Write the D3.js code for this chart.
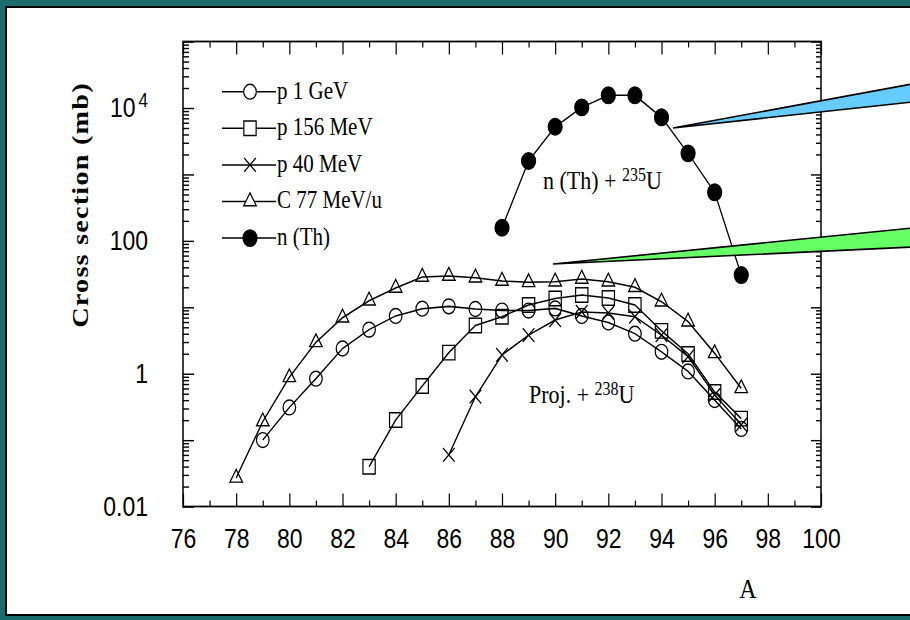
<!DOCTYPE html>
<html>
<head>
<meta charset="utf-8">
<script src="https://cdn.jsdelivr.net/npm/d3@7"></script>
<style>
  html, body { margin: 0; padding: 0; background: #1a6b6b; }
  svg { display: block; }
</style>
</head>
<body>
<svg id="chart" width="910" height="620"></svg>
<script>
// === Data ===
// mass number A and cross sections (mb)
const A_P1GEV = [79, 80, 81, 82, 83, 84, 85, 86, 87, 88, 89, 90, 91, 92, 93, 94, 95, 96, 97];
const P1GEV   = [0.1, 0.31, 0.84, 2.39, 4.6, 7.4, 9.5, 10.3, 9.4, 8.9, 8.9, 9.6, 7.4, 5.9, 4.0, 2.13, 1.08, 0.40, 0.147];

const A_P156  = [83, 84, 85, 86, 87, 88, 89, 90, 91, 92, 93, 94, 95, 96, 97];
const P156    = [0.0397, 0.20, 0.65, 2.07, 5.3, 7.2, 10.8, 13.5, 15.3, 13.8, 10.8, 4.4, 1.98, 0.53, 0.21];

const A_P40   = [86, 87, 88, 89, 90, 91, 92, 93, 94, 95, 96, 97];
const P40     = [0.060, 0.45, 1.91, 3.8, 6.4, 8.5, 8.2, 7.2, 3.8, 1.8, 0.48, 0.17];

const A_C77   = [78, 79, 80, 81, 82, 83, 84, 85, 86, 87, 88, 89, 90, 91, 92, 93, 94, 95, 96, 97];
const C77     = [0.027, 0.19, 0.88, 2.96, 6.95, 12.5, 19.5, 28.5, 29.5, 27.8, 24.8, 23.7, 24.2, 26.6, 24.2, 20, 12.1, 6.05, 2.02, 0.60];

const A_NTH   = [88, 89, 90, 91, 92, 93, 94, 95, 96, 97];
const NTH     = [157, 1590, 5210, 10200, 15500, 15500, 7220, 2070, 537, 30.5];

const LEGEND_LABELS = ['p 1 GeV', 'p 156 MeV', 'p 40 MeV', 'C 77 MeV/u', 'n (Th)'];
const X_MAJOR = [76, 78, 80, 82, 84, 86, 88, 90, 92, 94, 96, 98, 100];
const X_MINOR = [77, 79, 81, 83, 85, 87, 89, 91, 93, 95, 97, 99];
const Y_DECADES = [0.01, 0.1, 1, 10, 100, 1000, 1e4, 1e5];
const Y_LABELS = { 0.01: '0.01', 1: '1', 100: '100' };

// === Configuration ===
const SY = 1.18;            // the scan is stretched vertically
const Y = v => v / SY;      // image y -> stretched group y
const SERIF = "'Liberation Serif', 'Times New Roman', serif";
const SANS = "'Liberation Sans', Arial, sans-serif";

const svg = d3.select('#chart');

// --- slide background ---
svg.append('rect').attr('width', 910).attr('height', 620).attr('fill', '#1a6b6b');
svg.append('rect')
  .attr('x', 6).attr('y', 7).attr('width', 930).attr('height', 608)
  .attr('fill', '#fff').attr('stroke', '#000').attr('stroke-width', 2);

const g = svg.append('g').attr('transform', `scale(1,${SY})`);

// --- scales ---
const x = d3.scaleLinear().domain([76, 100]).range([183, 821]);
const y = d3.scaleLog().domain([0.01, 1e5]).range([Y(506.5), Y(41.5)]);

const yMinor = [];
Y_DECADES.slice(0, -1).forEach(d => {
  for (let k = 2; k <= 9; k++) yMinor.push(+(d * k).toPrecision(3));
});

// --- axes (ticks pointing inward) ---
function styleAxis(sel) {
  sel.select('.domain').remove();
  sel.attr('font-family', SANS).attr('font-size', 23).attr('color', '#000');
  sel.selectAll('line').attr('stroke-width', 1.2);
}

g.append('g').attr('transform', `translate(0,${y(0.01)})`)
  .call(d3.axisBottom(x).tickValues(X_MAJOR).tickSize(-11).tickPadding(19).tickFormat(d3.format('d')))
  .call(styleAxis);
g.append('g').attr('transform', `translate(0,${y(0.01)})`)
  .call(d3.axisBottom(x).tickValues(X_MINOR).tickSize(-5).tickFormat(''))
  .call(styleAxis);
g.append('g').attr('transform', `translate(0,${y(1e5)})`)
  .call(d3.axisTop(x).tickValues(X_MAJOR).tickSize(-11).tickFormat(''))
  .call(styleAxis);
g.append('g').attr('transform', `translate(0,${y(1e5)})`)
  .call(d3.axisTop(x).tickValues(X_MINOR).tickSize(-5).tickFormat(''))
  .call(styleAxis);

const leftAxis = g.append('g').attr('transform', `translate(${x(76)},0)`)
  .call(d3.axisLeft(y).tickValues(Y_DECADES).tickSize(-11).tickPadding(35)
    .tickFormat(d => Y_LABELS[d] || ''))
  .call(styleAxis);
leftAxis.selectAll('.tick text').each(function (d) {
  if (d !== 1e4) return;
  const t = d3.select(this).text(null);
  t.append('tspan').text('10');
  t.append('tspan').attr('dx', 3).attr('dy', '-0.5em').attr('font-size', 17).text('4');
});
g.append('g').attr('transform', `translate(${x(76)},0)`)
  .call(d3.axisLeft(y).tickValues(yMinor).tickSize(-6).tickFormat(''))
  .call(styleAxis);
g.append('g').attr('transform', `translate(${x(100)},0)`)
  .call(d3.axisRight(y).tickValues(Y_DECADES).tickSize(-10).tickFormat(''))
  .call(styleAxis);
g.append('g').attr('transform', `translate(${x(100)},0)`)
  .call(d3.axisRight(y).tickValues(yMinor).tickSize(-5).tickFormat(''))
  .call(styleAxis);

// frame
g.append('rect')
  .attr('x', x(76)).attr('y', y(1e5))
  .attr('width', x(100) - x(76)).attr('height', y(0.01) - y(1e5))
  .attr('fill', 'none').attr('stroke', '#000').attr('stroke-width', 1.5);

// --- axis titles ---
g.append('text')
  .attr('transform', `translate(88,${Y(205)}) rotate(-90)`)
  .attr('text-anchor', 'middle')
  .attr('font-family', SERIF).attr('font-size', 24).attr('font-weight', 'bold')
  .attr('letter-spacing', 1)
  .text('Cross section (mb)');

g.append('text')
  .attr('x', 748).attr('y', Y(598))
  .attr('text-anchor', 'middle')
  .attr('font-family', SERIF).attr('font-size', 24)
  .text('A');

// --- series ---
const series = [
  { A: A_P1GEV, v: P1GEV, type: d3.symbolCircle, size: 125, filled: false },
  { A: A_P156,  v: P156,  type: d3.symbolSquare, size: 151, filled: false },
  { A: A_P40,   v: P40,   type: d3.symbolTimes || d3.symbolCross, size: 90, filled: false },
  { A: A_C77,   v: C77,   type: d3.symbolTriangle, size: 68, filled: false },
  { A: A_NTH,   v: NTH,   type: d3.symbolCircle, size: 154, filled: true }
];

const line = d3.line().x(d => x(d[0])).y(d => y(d[1]));

series.forEach(s => {
  const pts = s.A.map((a, i) => [a, s.v[i]]);
  g.append('path')
    .datum(pts)
    .attr('d', line)
    .attr('fill', 'none').attr('stroke', '#000').attr('stroke-width', 1.3);

  g.append('g').selectAll('path')
    .data(pts)
    .join('path')
    .attr('transform', d => `translate(${x(d[0])},${y(d[1])})`)
    .attr('d', d3.symbol().type(s.type).size(s.size))
    .attr('fill', s.filled ? '#000' : 'none')
    .attr('stroke', '#000').attr('stroke-width', 1.2);
});

// --- legend ---
const legend = g.append('g');
series.forEach((s, i) => {
  const ry = Y(91.7 + i * 36.6);
  legend.append('line')
    .attr('x1', 222).attr('x2', 276).attr('y1', ry).attr('y2', ry)
    .attr('stroke', '#000').attr('stroke-width', 1.3);
  legend.append('path')
    .attr('transform', `translate(250,${ry})`)
    .attr('d', d3.symbol().type(s.type).size(s.size))
    .attr('fill', s.filled ? '#000' : '#fff')
    .attr('stroke', '#000').attr('stroke-width', 1.2);
  legend.append('text')
    .attr('x', 277).attr('y', ry + Y(7))
    .attr('font-family', SERIF).attr('font-size', 21)
    .text(LEGEND_LABELS[i]);
});

// --- reaction labels ---
function reaction(px, py, pre, sup, post) {
  const t = g.append('text')
    .attr('x', px).attr('y', Y(py))
    .attr('font-family', SERIF).attr('font-size', 22);
  t.append('tspan').text(pre);
  t.append('tspan').attr('dy', -7).attr('font-size', 16).text(sup);
  t.append('tspan').attr('dy', 7).text(post);
}
reaction(543, 189, 'n (Th) + ', '235', 'U');
reaction(529, 403, 'Proj. + ', '238', 'U');

// --- callout wedges (drawn over the scan) ---
const wedges = [
  { tip: [673, 128], top: [912, 84], bot: [912, 102], fill: '#66ccff' },
  { tip: [553, 264], top: [912, 228], bot: [912, 247], fill: '#66ff66' }
];
wedges.forEach(w => {
  svg.append('path')
    .attr('d', `M${w.tip}L${w.top}L${w.bot}Z`)
    .attr('fill', w.fill).attr('stroke', '#000').attr('stroke-width', 1.6)
    .attr('stroke-linejoin', 'miter');
});
</script>
</body>
</html>
